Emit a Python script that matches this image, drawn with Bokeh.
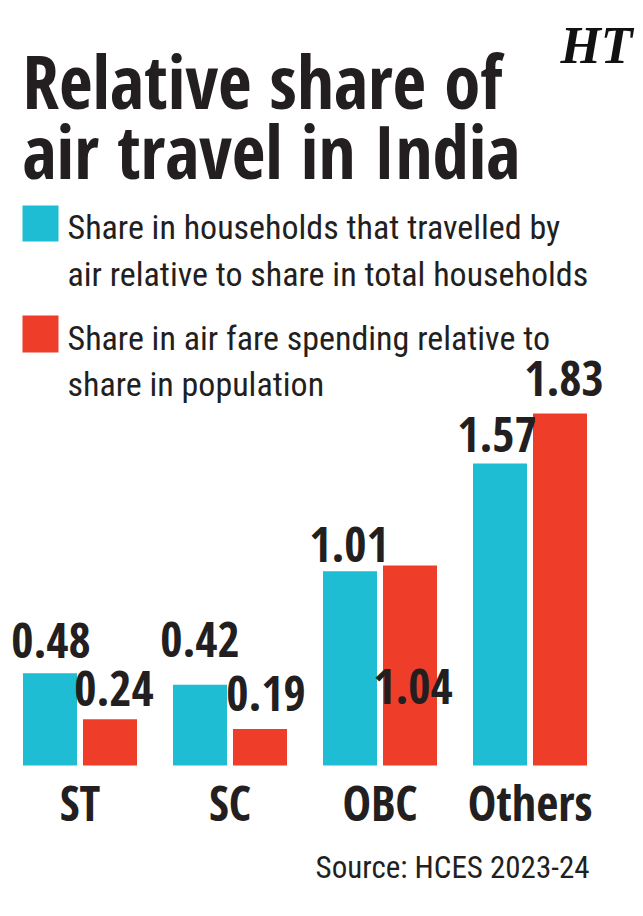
from bokeh.plotting import figure
from bokeh.models import Range1d, ColumnDataSource
from bokeh.core.properties import value
from bokeh.embed import file_html
from bokeh.resources import INLINE

# ---- data ----
categories = ["ST", "SC", "OBC", "Others"]
households_share = [0.48, 0.42, 1.01, 1.57]   # share in households that travelled by air / share in total households
airfare_share = [0.24, 0.19, 1.04, 1.83]      # share in air fare spending / share in population
legend_labels = [
    ["Share in households that travelled by", "air relative to share in total households"],
    ["Share in air fare spending relative to", "share in population"],
]
title_lines = ["Relative share of", "air travel in India"]
source_text = "Source: HCES 2023-24"

# ---- style ----
CYAN = "#1EBDD3"
RED = "#EE3E2A"
INK = "#231F20"
COND = "Open Sans Condensed"      # bold condensed
LIGHT = "Roboto Condensed"        # regular condensed
K = 0.37  # baseline compensation (fraction of font size)

W, H = 643, 916
PX_PER_CAT = 150.0
PX_PER_UNIT = 192.3
X0_PX = 79.5      # pixel position of first category centre
BASE_PX = 765.0   # pixel position of the zero baseline

x_start = -X0_PX / PX_PER_CAT
x_end = (W - X0_PX) / PX_PER_CAT
y_end = BASE_PX / PX_PER_UNIT
y_start = -(H - BASE_PX) / PX_PER_UNIT


def X(px):
    return x_start + px / PX_PER_CAT


def Y(py):
    return y_end - py / PX_PER_UNIT


def YB(base_px, size):
    """data y for a text whose alphabetic baseline should land at base_px"""
    return Y(base_px - K * size)


p = figure(width=W, height=H, x_range=Range1d(x_start, x_end), y_range=Range1d(y_start, y_end),
           output_backend="svg", toolbar_location=None, min_border=0)
p.axis.visible = False
p.grid.visible = False
p.outline_line_color = None
p.background_fill_color = "white"
p.border_fill_color = "white"

idx = list(range(len(categories)))
off = 0.2
bw = 0.36
VAL_SIZE = 48
CAT_SIZE = 48

src_h = ColumnDataSource(dict(x=[i - off for i in idx], top=households_share,
                              lab=[f"{v:.2f}" for v in households_share],
                              dx=[1, 0, -1, -3],
                              dy=[d - K * VAL_SIZE for d in [-15, -27, -9, -11]]))
src_a = ColumnDataSource(dict(x=[i + off for i in idx], top=airfare_share,
                              lab=[f"{v:.2f}" for v in airfare_share],
                              dx=[4, 6, 3, 4],
                              dy=[d - K * VAL_SIZE for d in [-13, -18, 139, -17]]))

p.vbar(x="x", top="top", bottom=0, width=bw, source=src_h, fill_color=CYAN, line_color=None)
p.vbar(x="x", top="top", bottom=0, width=bw, source=src_a, fill_color=RED, line_color=None)

for s in (src_h, src_a):
    p.text(x="x", y="top", text="lab", x_offset="dx", y_offset="dy", source=s,
           text_font=value(COND), text_font_style="bold", text_font_size=f"{VAL_SIZE}px",
           text_color=INK, text_align="center", text_baseline="alphabetic")

# category labels
p.text(x=idx, y=[0] * len(idx), text=categories, y_offset=55 - K * CAT_SIZE,
       text_font=value(COND), text_font_style="bold", text_font_size=f"{CAT_SIZE}px",
       text_color=INK, text_align="center", text_baseline="alphabetic")

# title
TS = 73
for line, base in zip(title_lines, [107, 177]):
    p.text(x=[X(22)], y=[YB(base, TS)], text=[line], text_font=value(COND), text_font_style="bold",
           text_font_size=f"{TS}px", text_color=INK, text_align="left", text_baseline="alphabetic")

# HT logo
p.text(x=[X(596)], y=[YB(64, 52)], text=["HT"], text_font=value("Liberation Serif"),
       text_font_style="bold italic", text_font_size="52px", text_color="#111111",
       text_align="center", text_baseline="alphabetic")

# legend swatches and text
LS = 34
for color, (top_px, bot_px), lines, bases in zip(
        [CYAN, RED], [(205, 241), (315, 352)], legend_labels, [[239, 286], [350, 396]]):
    p.quad(left=[X(22)], right=[X(58)], top=[Y(top_px)], bottom=[Y(bot_px)], fill_color=color, line_color=None)
    for ln, b in zip(lines, bases):
        p.text(x=[X(67)], y=[YB(b, LS)], text=[ln], text_font=value(LIGHT), text_font_size=f"{LS}px",
               text_color=INK, text_align="left", text_baseline="alphabetic")

# source
SS = 31
p.text(x=[X(589)], y=[YB(878, SS)], text=[source_text], text_font=value(LIGHT), text_font_size=f"{SS}px",
       text_color=INK, text_align="right", text_baseline="alphabetic")

open("out.html", "w").write(file_html(p, INLINE))
